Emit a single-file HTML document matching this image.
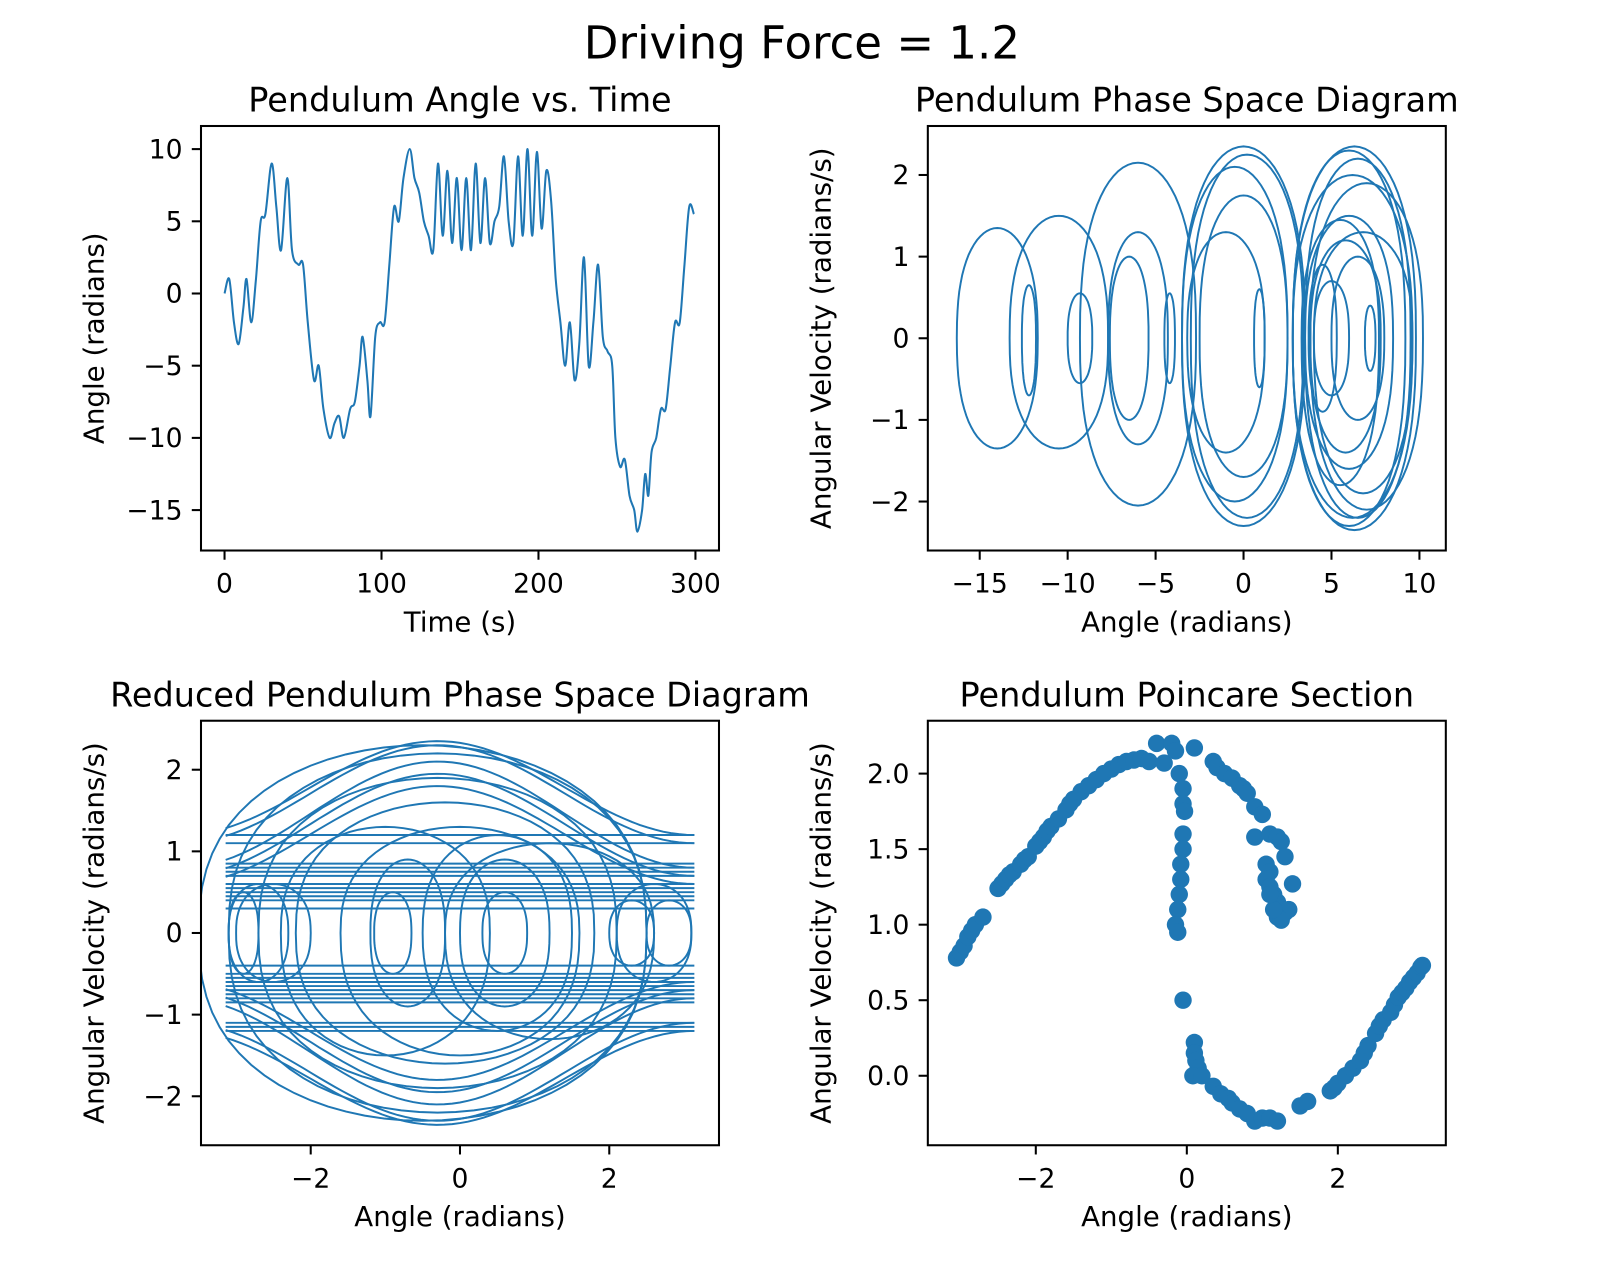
<!DOCTYPE html>
<html><head><meta charset="utf-8"><style>
body{margin:0;background:#fff}
svg{display:block;font-family:"DejaVu Sans","Liberation Sans",sans-serif}
</style></head><body>
<svg width="1605" height="1272" viewBox="0 0 1605 1272">
<g id="fig" transform="matrix(1.0237,0,0,1.0254,0.35,-1.15)">
<text x="783" y="58" font-size="44" text-anchor="middle">Driving Force = 1.2</text>
</g>
</svg>
<script>
// ---- data ----
const timeVals=[0,3,6,9,12,14,17,20,23,26,30,33,36,40,43,47,50,53,57,60,63,67,70,73,76,80,83,86,88,91,93,96,99,102,105,108,111,114,118,121,124,127,130,133,136,139,142,145,148,151,154,157,160,163,166,169,172,175,178,181,184,187,190,193,196,199,202,205,208,211,214,217,220,223,226,229,232,235,238,241,244,247,249,252,255,258,261,263,266,268,270,272,275,278,281,284,287,290,293,296,299];
const angleVals=[0,1,-2,-3.5,-1,1,-2,1,5,5.5,9,6,3,8,3,2,2,-2,-6,-5,-8,-10,-9,-8.5,-10,-8,-7.5,-5,-3,-6,-8.5,-3,-2,-2,2,6,5,8,10,8,7,5,4,3,9,4,8.5,3.5,8,3,8,3,9,3.5,8,3.5,5,6,9.5,5,3.5,9.5,4,10,4,9.8,4.5,8.5,6.5,1,-2,-5,-2,-6,-3.5,2.5,-5,-2,2,-3,-4,-5,-10,-12,-11.5,-14,-15,-16.5,-15,-12.5,-14,-11,-10,-8,-8,-5,-2,-2,2,6,5.5];
const loopCenters=[-14,-12.2,-10.5,-9.3,-6,-6,-6.5,-4.2,0,-0.5,0,0.2,-1,0.9,6.3,6,6.5,6,5.8,6.5,5,7,7.2,4.5,6.8,5.5,6.2];
const loopWidths=[2.3,0.4,2.8,0.7,3.3,1.7,1.1,0.3,3.5,3,2.5,3.2,2.2,0.3,3.5,3.2,3,2.5,2,1.5,1,3.2,0.3,0.8,2.8,2.2,3.4];
const loopTops=[1.35,0.65,1.5,0.55,2.15,1.3,1.0,0.55,2.35,2.1,1.75,2.25,1.3,0.6,2.35,2.3,2.2,1.5,1.2,1.0,0.7,1.9,0.4,0.9,1.3,1.45,2.0];
const loopBottoms=[-1.35,-0.7,-1.35,-0.55,-2.05,-1.3,-1.0,-0.55,-2.3,-2.0,-1.7,-2.2,-1.4,-0.6,-2.35,-2.3,-2.2,-1.6,-1.4,-1.0,-0.7,-2.1,-0.4,-0.9,-1.9,-1.8,-2.2];
const redCenters=[-0.3,-0.3,-0.2,0.5,0.6,0.6,-0.7,-0.9,-2.7,-2.9,2.6,2.8,-2.5,2.3,0,-1.0,1.2,-0.5];
const redWidths=[2.8,2.4,2.0,1.0,0.6,0.3,0.5,0.25,0.4,0.2,0.5,0.3,0.5,0.3,1.6,1.4,1.4,3.0];
const redTops=[2.2,1.9,1.6,1.2,0.9,0.5,0.9,0.5,0.6,0.5,0.6,0.4,0.6,0.4,1.3,1.3,1.1,2.3];
const redBottoms=[-2.2,-1.9,-1.6,-1.2,-0.9,-0.5,-0.9,-0.5,-0.6,-0.5,-0.6,-0.4,-0.6,-0.4,-1.5,-1.5,-1.3,-2.3];
const lineVels=[1.2,1.1,0.85,0.8,0.75,0.7,0.6,0.55,0.5,0.45,0.4,0.3,-0.4,-0.5,-0.55,-0.6,-0.65,-0.7,-0.75,-0.8,-0.85,-1.1,-1.15,-1.2];
const archEdges=[1.2,1.1,0.8,0.7,0.6,-1.2,-1.1,-0.8,-0.7,-0.6];
const archPeaks=[2.35,2.3,2.1,1.95,1.8,-2.35,-2.3,-2.1,-1.95,-1.8];
const pX=[-3.05,-3.0,-2.95,-2.9,-2.85,-2.8,-2.7,-2.5,-2.45,-2.4,-2.35,-2.3,-2.2,-2.15,-2.1,-2.0,-1.95,-1.9,-1.85,-1.8,-1.7,-1.6,-1.55,-1.5,-1.4,-1.3,-1.2,-1.1,-1.0,-0.9,-0.8,-0.7,-0.6,-0.5,-0.4,-0.3,-0.2,-0.15,-0.1,-0.05,-0.05,-0.03,-0.05,-0.05,-0.08,-0.08,-0.1,-0.12,-0.15,-0.12,-0.05,0.1,0.1,0.12,0.15,0.08,0.2,0.35,0.45,0.55,0.6,0.7,0.8,0.9,1.0,1.1,1.2,1.5,1.6,1.9,1.95,2.0,2.1,2.2,2.3,2.35,2.4,2.5,2.55,2.6,2.7,2.75,2.8,2.85,2.9,2.95,3.0,3.05,3.1,3.12,0.1,0.35,0.4,0.5,0.6,0.7,0.75,0.8,0.9,1.0,0.9,1.1,1.2,1.25,1.3,1.05,1.1,1.05,1.1,1.15,1.2,1.25,1.3,1.35,1.4,1.2,1.25,1.15,1.1];
const pY=[0.78,0.82,0.86,0.92,0.96,1.0,1.05,1.24,1.27,1.3,1.33,1.35,1.4,1.43,1.45,1.52,1.55,1.58,1.62,1.65,1.7,1.76,1.8,1.83,1.88,1.92,1.96,2.0,2.03,2.06,2.08,2.09,2.1,2.08,2.2,2.07,2.2,2.15,2.0,1.9,1.8,1.75,1.6,1.5,1.4,1.3,1.2,1.1,1.0,0.95,0.5,0.22,0.15,0.1,0.05,0.0,0.0,-0.07,-0.12,-0.15,-0.18,-0.22,-0.25,-0.3,-0.28,-0.28,-0.3,-0.2,-0.17,-0.1,-0.08,-0.05,0.0,0.05,0.1,0.15,0.2,0.28,0.33,0.37,0.42,0.47,0.52,0.55,0.58,0.62,0.65,0.68,0.72,0.73,2.17,2.08,2.04,2.0,1.97,1.92,1.9,1.87,1.78,1.73,1.58,1.6,1.58,1.55,1.45,1.4,1.35,1.3,1.25,1.2,1.15,1.1,1.08,1.1,1.27,1.05,1.03,1.1,1.2];

const NS="http://www.w3.org/2000/svg";
const fig=document.getElementById('fig');
const C="#1f77b4";
function mk(tag,attrs,parent){const e=document.createElementNS(NS,tag);for(const k in attrs)e.setAttribute(k,attrs[k]);(parent||fig).appendChild(e);return e;}
function axes(name,L,T,W,H,x0,x1,y0,y1,xt,yt,xl,yl,title,fmt){
  const g=mk('g',{});
  
  
  const sx=v=>L+(v-x0)/(x1-x0)*W, sy=v=>T+H-(v-y0)/(y1-y0)*H;
  const cid=name+'-clip';
  const cp=mk('clipPath',{id:cid},g);mk('rect',{x:L,y:T,width:W,height:H},cp);
  const plot=mk('g',{'clip-path':'url(#'+cid+')'},g);
  
  
  xt.forEach(v=>{const x=sx(v);mk('line',{x1:x,x2:x,y1:T+H,y2:T+H+9,stroke:'#000','stroke-width':2},g);
    const t=mk('text',{x:x,y:T+H+41,'font-size':26,'text-anchor':'middle'},g);t.textContent=(v<0?'\u2212':'')+fmt.x(Math.abs(v));
    });
  yt.forEach(v=>{const y=sy(v);mk('line',{x1:L-9,x2:L,y1:y,y2:y,stroke:'#000','stroke-width':2},g);
    const t=mk('text',{x:L-18,y:y+9,'font-size':26,'text-anchor':'end'},g);t.textContent=(v<0?'\u2212':'')+fmt.y(Math.abs(v));
    });
  const tt=mk('text',{x:L+W/2,y:T-14,'font-size':32.7,'text-anchor':'middle'},g);tt.textContent=title;
  
  const xa=mk('text',{x:L+W/2,y:T+H+79,'font-size':27,'text-anchor':'middle'},g);xa.textContent=xl;
  
  const cy=T+H/2, cx=L-95;
  const ya=mk('text',{x:cx,y:cy,'font-size':27,'text-anchor':'middle',transform:`rotate(-90 ${cx} ${cy})`},g);ya.textContent=yl;
  
  return {g,plot,sx,sy,frame:()=>mk('rect',{x:L,y:T,width:W,height:H,fill:'none',stroke:'#000','stroke-width':2},g)};
}
const intF=v=>String(v), f1=v=>v.toFixed(1);
function loopPath(ax,cx,rx,vt,vb){
  let d='';for(let i=0;i<=72;i++){const a=i/72*2*Math.PI;const s=Math.sin(a);
    const v=s>=0?vt*Math.pow(s,0.8):vb*Math.pow(-s,0.8);
    const x=cx-rx*Math.cos(a);d+=(i?'L':'M')+ax.sx(x).toFixed(1)+','+ax.sy(v).toFixed(1);}
  return d;
}
function smooth(pts){
  let d='M'+pts[0][0].toFixed(1)+','+pts[0][1].toFixed(1);
  for(let i=0;i<pts.length-1;i++){const p0=pts[Math.max(0,i-1)],p1=pts[i],p2=pts[i+1],p3=pts[Math.min(pts.length-1,i+2)];
    const c1=[p1[0]+(p2[0]-p0[0])/6,p1[1]+(p2[1]-p0[1])/6],c2=[p2[0]-(p3[0]-p1[0])/6,p2[1]-(p3[1]-p1[1])/6];
    d+='C'+c1[0].toFixed(1)+','+c1[1].toFixed(1)+' '+c2[0].toFixed(1)+','+c2[1].toFixed(1)+' '+p2[0].toFixed(1)+','+p2[1].toFixed(1);}
  return d;
}

const a1=axes('angle-vs-time',196,124,506,414,-15,315,-17.8,11.6,[0,100,200,300],[10,5,0,-5,-10,-15],'Time (s)','Angle (radians)','Pendulum Angle vs. Time',{x:intF,y:intF});
const l1=mk('path',{d:smooth(timeVals.map((t,i)=>[a1.sx(t),a1.sy(angleVals[i])])),fill:'none',stroke:C,'stroke-width':2,'stroke-linejoin':'round'},a1.plot);


a1.frame();

const a2=axes('phase-space',906,124,506,414,-17.95,11.5,-2.6,2.6,[-15,-10,-5,0,5,10],[2,1,0,-1,-2],'Angle (radians)','Angular Velocity (radians/s)','Pendulum Phase Space Diagram',{x:intF,y:intF});
loopCenters.forEach((c,i)=>{const p=mk('path',{d:loopPath(a2,c,loopWidths[i],loopTops[i],loopBottoms[i]),fill:'none',stroke:C,'stroke-width':1.9},a2.plot);
  
  });
a2.frame();

const a3=axes('reduced-phase-space',196,704,506,414,-3.47,3.47,-2.6,2.6,[-2,0,2],[2,1,0,-1,-2],'Angle (radians)','Angular Velocity (radians/s)','Reduced Pendulum Phase Space Diagram',{x:intF,y:intF});
lineVels.forEach(v=>{const p=mk('line',{x1:a3.sx(-3.14),x2:a3.sx(3.14),y1:a3.sy(v),y2:a3.sy(v),stroke:C,'stroke-width':1.9},a3.plot);
  
  });
archEdges.forEach((e,i)=>{let d='';for(let k=0;k<=60;k++){const x=-3.14+k/60*6.28;const w=(1+Math.cos((x+0.3)/3.44*Math.PI))/2;
  const v=e+(archPeaks[i]-e)*w;d+=(k?'L':'M')+a3.sx(x).toFixed(1)+','+a3.sy(v).toFixed(1);}
  const p=mk('path',{d:d,fill:'none',stroke:C,'stroke-width':1.9},a3.plot);
  
  });
redCenters.forEach((c,i)=>{const p=mk('path',{d:loopPath(a3,c,redWidths[i],redTops[i],redBottoms[i]),fill:'none',stroke:C,'stroke-width':1.9},a3.plot);
  
  });
a3.frame();

const a4=axes('poincare-section',906,704,506,414,-3.43,3.43,-0.46,2.35,[-2,0,2],[2.0,1.5,1.0,0.5,0.0],'Angle (radians)','Angular Velocity (radians/s)','Pendulum Poincare Section',{x:intF,y:f1});
pX.forEach((x,i)=>{const c=mk('circle',{cx:a4.sx(x),cy:a4.sy(pY[i]),r:8.5,fill:C},a4.plot);
  
  });
a4.frame();
</script>
</body></html>
